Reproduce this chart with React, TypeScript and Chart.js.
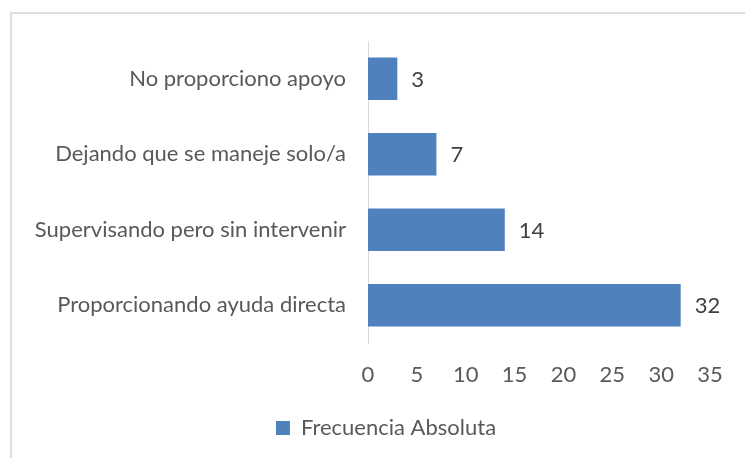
import React, { useEffect, useRef } from "react";
import { Chart, registerables } from "chart.js";

Chart.register(...registerables);

const categories = [
  "No proporciono apoyo",
  "Dejando que se maneje solo/a",
  "Supervisando pero sin intervenir",
  "Proporcionando ayuda directa",
];
const values = [3, 7, 14, 32];
const seriesName = "Frecuencia Absoluta";
const xMin = 0;
const xMax = 35;
const xStep = 5;

const FONT = "Lato, 'Open Sans', sans-serif";
const FS = 22;

const valueLabels = {
  id: "valueLabels",
  afterDatasetsDraw(chart: any) {
    const ctx = chart.ctx;
    const meta = chart.getDatasetMeta(0);
    ctx.save();
    ctx.font = `${FS}px ${FONT}`;
    ctx.fillStyle = "#404040";
    ctx.textAlign = "left";
    ctx.textBaseline = "middle";
    meta.data.forEach((el: any, i: number) => {
      ctx.fillText(String(chart.data.datasets[0].data[i]), el.x + 14, el.y + 1);
    });
    ctx.restore();
  },
};

const legendShift = {
  id: "legendShift",
  afterLayout(chart: any) {
    if (chart.legend) {
      chart.legend.left += 31;
      chart.legend.right += 31;
    }
  },
};

export default function App() {
  const ref = useRef<HTMLCanvasElement | null>(null);
  useEffect(() => {
    if (!ref.current) return;
    const chart = new Chart(ref.current, {
      type: "bar",
      data: {
        labels: categories,
        datasets: [
          {
            label: seriesName,
            data: values,
            backgroundColor: "#4F81BD",
            borderWidth: 0,
            categoryPercentage: 1,
            barPercentage: 0.56,
          },
        ],
      },
      options: {
        indexAxis: "y",
        animation: false,
        responsive: false,
        maintainAspectRatio: false,
        layout: { padding: { left: 0, right: 35, top: 41, bottom: 9 } },
        plugins: {
          legend: {
            position: "bottom",
            labels: {
              boxWidth: 14,
              boxHeight: 14,
              color: "#595959",
              font: { family: FONT, size: FS },
              padding: 10,
            },
          },
          tooltip: { enabled: false },
        },
        scales: {
          x: {
            min: xMin,
            max: xMax,
            ticks: { stepSize: xStep, color: "#595959", font: { family: FONT, size: FS }, padding: 19 },
            grid: { display: false, drawTicks: false },
            border: { display: false },
            afterFit: (scale: any) => {
              scale.height = 64;
            },
          },
          y: {
            ticks: { color: "#595959", font: { family: FONT, size: FS }, padding: 22 },
            grid: { display: false, drawTicks: false },
            border: { display: true, color: "#D9D9D9", width: 1 },
            afterFit: (scale: any) => {
              scale.width = 368;
            },
          },
        },
      },
      plugins: [valueLabels, legendShift],
    });
    return () => chart.destroy();
  }, []);
  return (
    <div style={{ position: "absolute", left: 0, top: 0, width: 745, height: 458, background: "#fff", overflow: "hidden" }}>
      <div
        style={{
          position: "absolute",
          left: 10,
          top: 12,
          width: 800,
          height: 500,
          borderTop: "2px solid #DEDEDE",
          borderLeft: "2px solid #DEDEDE",
          boxSizing: "border-box",
        }}
      />
      <canvas ref={ref} width={745} height={458} style={{ position: "absolute", left: 0, top: 0 }} />
    </div>
  );
}
